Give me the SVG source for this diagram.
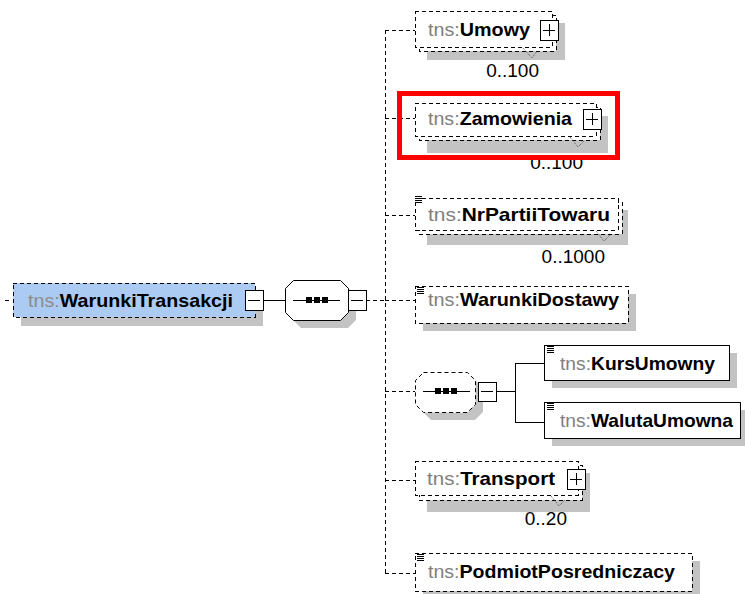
<svg xmlns="http://www.w3.org/2000/svg" width="745" height="594" viewBox="0 0 745 594">
<style>
.sh{fill:#c3c3c3;stroke:none}
.bx{fill:#fff;stroke:#000;stroke-width:1}
.dbx{fill:#fff;stroke:#000;stroke-width:1;stroke-dasharray:4,3}
.ln{fill:none;stroke:#000;stroke-width:1}
.dl{fill:none;stroke:#000;stroke-width:1;stroke-dasharray:4,3}
.ce{shape-rendering:crispEdges}
.dot{fill:none;stroke:#555;stroke-width:1;stroke-dasharray:1,1}
.t{font-family:"Liberation Sans",Arial,sans-serif;font-size:19px}
.p{fill:#808080}
.n{fill:#000;font-weight:bold}
.c{font-family:"Liberation Sans",Arial,sans-serif;font-size:19px;fill:#000;text-anchor:end}
.ic{stroke:#000;stroke-width:1;shape-rendering:crispEdges}
</style>
<defs>
<g id="doc"><path class="ic" d="M0,0.5H7M0,2.5H7M0,4.5H7M0,6.5H7"/></g>
<g id="plus"><rect class="bx ce" x="0" y="0" width="18" height="20"/><path class="ln ce" d="M3,10H15M9,4V16"/></g>
<g id="minus"><rect class="bx ce" x="0" y="0" width="18" height="20"/><path class="ln ce" d="M3,10H15"/></g>
</defs>

<g id="connectors">
<path class="dl ce" d="M5,300H12"/>
<path class="ln ce" d="M263,300H285"/>
<path class="dl ce" d="M366,300H385"/>
<path class="dl ce" d="M385,30V573"/>
<path class="dl ce" d="M385,30H415M385,118H415M385,215H415M385,300H415M385,391H415M385,480H415M385,573H415"/>
<path class="ln ce" d="M496,391H515M515,363V422M515,363H544M515,422H544"/>
</g>

<g id="WarunkiTransakcji">
<rect class="sh" x="21" y="291" width="242" height="35"/>
<rect class="ce" x="13" y="283" width="242" height="34" fill="#abcbf3" stroke="#000" stroke-dasharray="4,3"/>
<text class="t" x="28" y="307" textLength="205" lengthAdjust="spacingAndGlyphs"><tspan fill="#8c8c8c">tns:</tspan><tspan class="n">WarunkiTransakcji</tspan></text>
<use href="#minus" x="245" y="290"/>
</g>

<g id="sequence">
<path class="sh" d="M301,288H348L356,296V320L348,328H301L293,320V296Z"/>
<path class="bx" d="M293.5,280.5H340.5L348.5,288.5V312.5L340.5,320.5H293.5L285.5,312.5V288.5Z"/>
<path class="ln ce" d="M293,300H340"/>
<rect x="306" y="297" width="6" height="6" fill="#000"/>
<rect x="314" y="297" width="6" height="6" fill="#000"/>
<rect x="322" y="297" width="6" height="6" fill="#000"/>
<use href="#minus" x="348" y="290"/>
</g>

<g id="Umowy">
<rect class="sh" x="427" y="23" width="138" height="37"/>
<rect class="dbx ce" x="419" y="15" width="137" height="36"/>
<rect class="dbx ce" x="415" y="11" width="137" height="36"/>
<text class="t" x="428" y="36" textLength="102" lengthAdjust="spacingAndGlyphs"><tspan class="p">tns:</tspan><tspan class="n">Umowy</tspan></text>
<use href="#plus" x="540" y="20"/>
<path class="dot" d="M523,48L532,58L537,51"/>
<text class="c" x="539" y="77">0..100</text>
</g>

<g id="Zamowienia">
<rect class="sh" x="427" y="116" width="181" height="37"/>
<rect class="dbx ce" x="419" y="107" width="181" height="33"/>
<rect class="dbx ce" x="415" y="103" width="181" height="33"/>
<text class="t" x="428" y="125" textLength="144" lengthAdjust="spacingAndGlyphs"><tspan class="p">tns:</tspan><tspan class="n">Zamowienia</tspan></text>
<use href="#plus" x="583" y="109"/>
<path class="dot" d="M570,137L578,147L584,141"/>
<text class="c" x="583" y="169">0..100</text>
</g>

<g id="NrPartiiTowaru">
<rect class="sh" x="427" y="210" width="201" height="35"/>
<rect class="dbx ce" x="419" y="202" width="203" height="32"/>
<rect class="dbx ce" x="415" y="198" width="203" height="32"/>
<use href="#doc" x="415" y="196"/>
<text class="t" x="428" y="221" textLength="182" lengthAdjust="spacingAndGlyphs"><tspan class="p">tns:</tspan><tspan class="n">NrPartiiTowaru</tspan></text>
<path class="dot" d="M596,231L604,241L610,235"/>
<text class="c" x="605" y="263">0..1000</text>
</g>

<g id="WarunkiDostawy">
<rect class="sh" x="423" y="294" width="213" height="37"/>
<rect class="dbx ce" x="415" y="286" width="213" height="37"/>
<use href="#doc" x="417" y="287"/>
<text class="t" x="428" y="306" textLength="191" lengthAdjust="spacingAndGlyphs"><tspan class="p">tns:</tspan><tspan class="n">WarunkiDostawy</tspan></text>
</g>

<g id="sequence2">
<path class="sh" d="M431,380H475L483,388V412L475,420H431L423,412V388Z"/>
<path class="dbx" d="M423.5,372.5H467.5L475.5,380.5V404.5L467.5,412.5H423.5L415.5,404.5V380.5Z"/>
<path class="ln ce" d="M423,391H470"/>
<rect x="435" y="388" width="6" height="6" fill="#000"/>
<rect x="443" y="388" width="6" height="6" fill="#000"/>
<rect x="451" y="388" width="6" height="6" fill="#000"/>
<rect class="bx ce" x="478" y="382" width="18" height="19"/>
<path class="ln ce" d="M481,391H493"/>
</g>

<g id="KursUmowny">
<rect class="sh" x="552" y="353" width="185" height="35"/>
<rect class="bx ce" x="544" y="345" width="185" height="35"/>
<use href="#doc" x="547" y="346"/>
<text class="t" x="560" y="370" textLength="155" lengthAdjust="spacingAndGlyphs"><tspan class="p">tns:</tspan><tspan class="n">KursUmowny</tspan></text>
</g>

<g id="WalutaUmowna">
<rect class="sh" x="552" y="410" width="196" height="36"/>
<rect class="bx ce" x="544" y="402" width="196" height="36"/>
<use href="#doc" x="547" y="403"/>
<text class="t" x="560" y="427" textLength="173" lengthAdjust="spacingAndGlyphs"><tspan class="p">tns:</tspan><tspan class="n">WalutaUmowna</tspan></text>
</g>

<g id="Transport">
<rect class="sh" x="427" y="473" width="163" height="39"/>
<rect class="dbx ce" x="419" y="465" width="163" height="35"/>
<rect class="dbx ce" x="415" y="461" width="163" height="34"/>
<text class="t" x="427" y="485" textLength="128" lengthAdjust="spacingAndGlyphs"><tspan class="p">tns:</tspan><tspan class="n">Transport</tspan></text>
<use href="#plus" x="567" y="469"/>
<path class="dot" d="M551,496L559,506L565,500"/>
<text class="c" x="567" y="525">0..20</text>
</g>

<g id="PodmiotPosredniczacy">
<rect class="sh" x="423" y="561" width="277" height="38"/>
<rect class="dbx ce" x="415" y="553" width="277" height="38"/>
<use href="#doc" x="417" y="554"/>
<text class="t" x="428" y="578" textLength="247" lengthAdjust="spacingAndGlyphs"><tspan class="p">tns:</tspan><tspan class="n">PodmiotPosredniczacy</tspan></text>
</g>

<g id="highlight">
<rect x="399.5" y="93.5" width="218" height="64" fill="none" stroke="#ff0000" stroke-width="5"/>
</g>
</svg>
